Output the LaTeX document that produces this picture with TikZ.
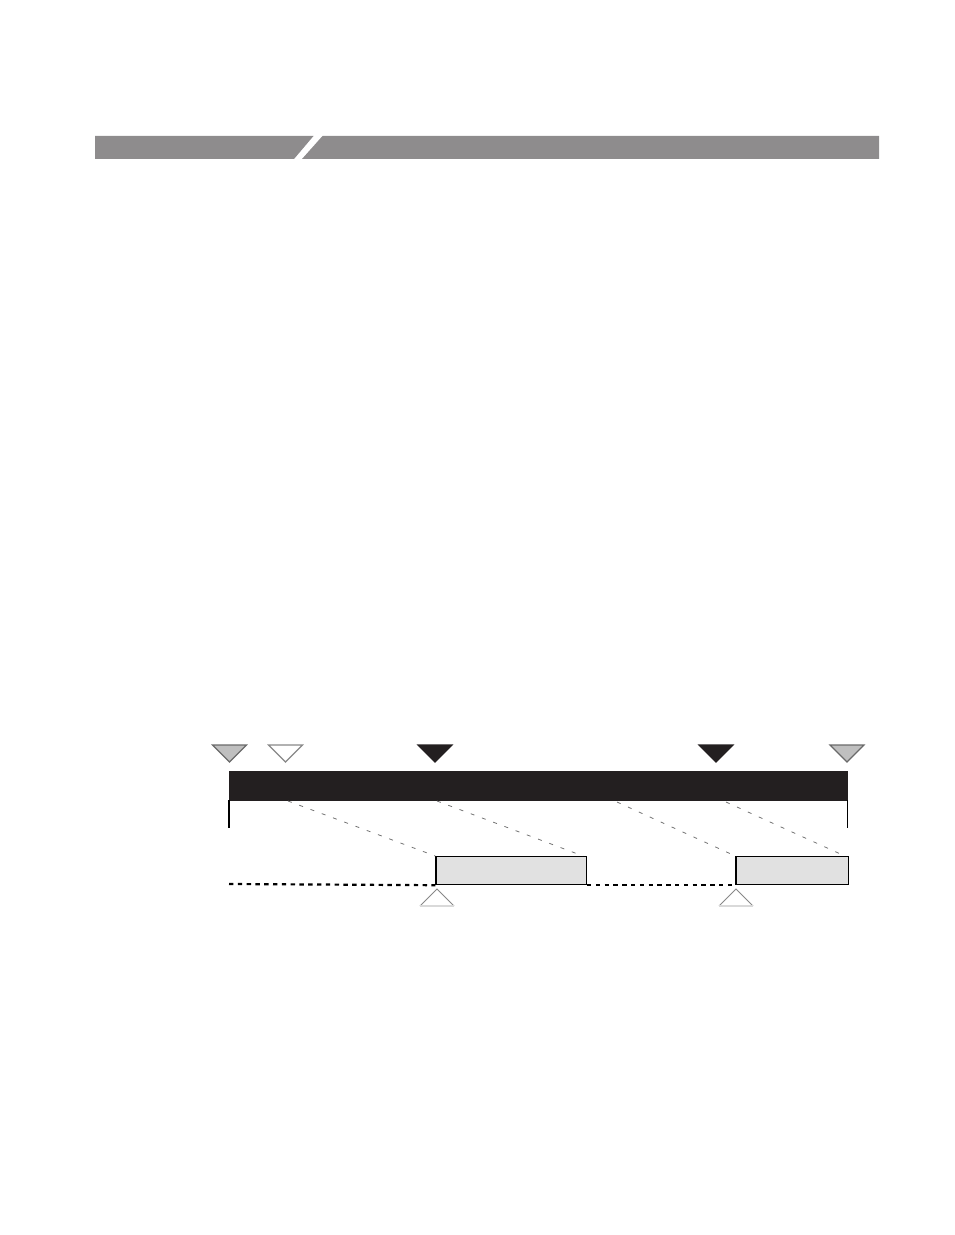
\documentclass[tikz,border=0pt]{standalone}
\begin{document}
\begin{tikzpicture}[x=0.5pt,y=-0.5pt,
  hdr/.style={fill=hdrgray,draw=none},
  markgray/.style={fill=markfill,draw=markedge,line width=0.6pt,line join=miter},
  markwhite/.style={fill=white,draw=markedge!80,line width=0.6pt},
  markblack/.style={fill=barblack,draw=barblack,line width=0.6pt},
  markup/.style={fill=white,draw=markedge!80,line width=0.5pt},
  guide/.style={draw=black!55,line width=0.4pt,dash pattern=on 2pt off 4pt},
  track/.style={draw=black,line width=1.1pt,dash pattern=on 2.2pt off 2.2pt},
  segbox/.style={fill=segfill,draw=black,line width=0.6pt},
  edge/.style={draw=black,line width=0.6pt}]
\definecolor{hdrgray}{HTML}{8E8C8D}
\definecolor{markfill}{HTML}{BFBFBF}
\definecolor{markedge}{HTML}{6A6A6A}
\definecolor{barblack}{HTML}{231F20}
\definecolor{segfill}{HTML}{E1E1E1}
\useasboundingbox (0,0) rectangle (954,1235);
% header band
\fill[hdr] (95,136) -- (313.5,136) -- (294,159) -- (95,159) -- cycle;
\fill[hdr] (322.5,136) -- (879,136) -- (879,159) -- (302,159) -- cycle;
% coordinates
\coordinate (barTL) at (229,771);
\coordinate (barBR) at (848,801);
\coordinate (s1) at (288,801);
\coordinate (s2) at (437,801);
\coordinate (s3) at (617,802);
\coordinate (s4) at (726,802);
\coordinate (trackL) at (229,884);
% black bar
\fill[barblack] (barTL) rectangle (barBR);
\draw[edge] (229,800) -- (229,828);
\draw[edge,line width=0.9pt] (847.5,800) -- (847.5,828);
% segment boxes
\node[segbox,minimum width=150.5pt*0.5,minimum height=28pt*0.5,inner sep=0pt,anchor=north west] (box1) at (435.3,856) {};
\node[segbox,minimum width=112.4pt*0.5,minimum height=28pt*0.5,inner sep=0pt,anchor=north west] (box2) at (735.3,856) {};
% guides
\draw[guide] (s1) -- (box1.north west);
\draw[guide] (s2) -- ([xshift=-2pt]box1.north east);
\draw[guide] (s3) -- (box2.north west);
\draw[guide] (s4) -- ([xshift=-2pt]box2.north east);
% dotted track
\draw[track] (trackL) -- (box1.south west);
\draw[track] (box1.south east) -- (box2.south west);
% top markers
\draw[markgray] (212.5,745) -- (246.5,745) -- (229.5,762) -- cycle;
\draw[markwhite] (268.5,745) -- (302.5,745) -- (285.5,762) -- cycle;
\draw[markblack] (418,745) -- (452,745) -- (435,762) -- cycle;
\draw[markblack] (699,745) -- (733,745) -- (716,762) -- cycle;
\draw[markgray] (830,745) -- (864,745) -- (847,762) -- cycle;
% bottom markers
\draw[markup] (420,906) -- (437,889) -- (454,906);
\draw[draw=black!15,line width=0.8pt] (420,906) -- (454,906);
\draw[markup] (719,906) -- (736,889) -- (753,906);
\draw[draw=black!15,line width=0.8pt] (719,906) -- (753,906);
\end{tikzpicture}
\end{document}
